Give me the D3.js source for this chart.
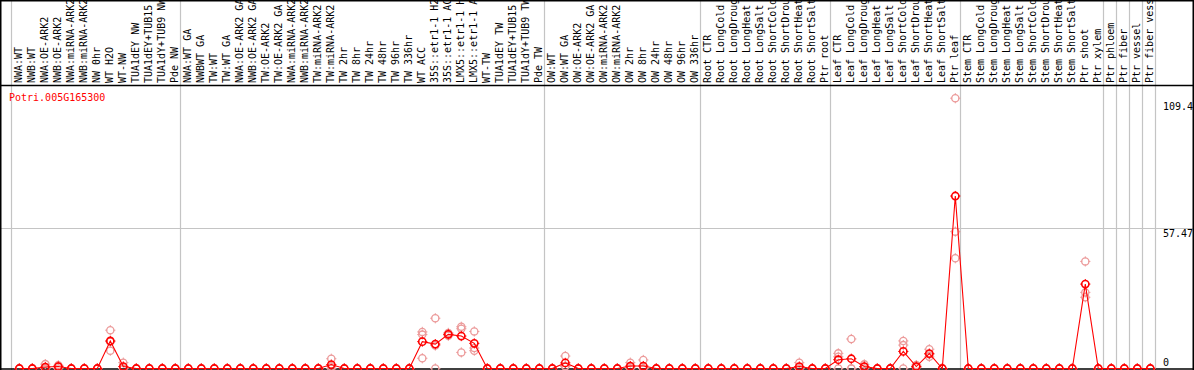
<!DOCTYPE html>
<html><head><meta charset="utf-8">
<script src="https://cdn.jsdelivr.net/npm/d3@7"></script>
<style>body{margin:0;background:#fff}svg{display:block}text{font-family:"DejaVu Sans Mono",monospace;font-size:10px}</style>
</head><body><svg id="c" width="1194" height="370"></svg>
<script>
const geneName = "Potri.005G165300";
const categories = ["NWA:WT","NWB:WT","NWA:OE-ARK2","NWB:OE-ARK2","NWA:miRNA-ARK2","NWB:miRNA-ARK2","NW 0hr","WT H2O","WT-NW","TUA1dEY NW","TUA1dEY+TUB15 NW","TUA1dY+TUB9 NW","Pde NW",
"NWA:WT GA","NWBWT GA","TW:WT","TW:WT GA","NWA:OE-ARK2 GA","NWB:OE-ARK2 GA","TW:OE-ARK2","TW:OE-ARK2 GA","NWA:miRNA-ARK2","NWB:miRNA-ARK2","TW:miRNA-ARK2","TW:miRNA-ARK2","TW 2hr","TW 8hr","TW 24hr","TW 48hr","TW 96hr","TW 336hr","WT ACC","35S::etr1-1 H2O","35S::etr1-1 ACC","LMX5::etr1-1 H2O","LMX5::etr1-1 ACC","WT-TW","TUA1dEY TW","TUA1dEY+TUB15 TW","TUA1dY+TUB9 TW","Pde TW",
"OW:WT","OW:WT GA","OW:OE-ARK2","OW:OE-ARK2 GA","OW:miRNA-ARK2","OW:miRNA-ARK2","OW 2hr","OW 8hr","OW 24hr","OW 48hr","OW 96hr","OW 336hr",
"Root CTR","Root LongCold","Root LongDrought","Root LongHeat","Root LongSalt","Root ShortCold","Root ShortDrought","Root ShortHeat","Root ShortSalt","Ptr root",
"Leaf CTR","Leaf LongCold","Leaf LongDrought","Leaf LongHeat","Leaf LongSalt","Leaf ShortCold","Leaf ShortDrought","Leaf ShortHeat","Leaf ShortSalt","Ptr leaf",
"Stem CTR","Stem LongCold","Stem LongDrought","Stem LongHeat","Stem LongSalt","Stem ShortCold","Stem ShortDrought","Stem ShortHeat","Stem ShortSalt","Ptr shoot","Ptr xylem",
"Ptr phloem","Ptr fiber","Ptr vessel","Ptr fiber vessel"];
const means = [0,0,0.6,0.8,0,0,0,11.3,0.8,0,0,0,0,
0,0,0,0,0,0,0,0,0,0,0,1.6,0,0,0,0,0,0,11.0,10.0,14.0,13.3,10.3,0,0,0,0,0,
0,2.3,0,0,0,0,1.0,1.0,0,0,0,0,
0,0,0,0,0,0,0,0.8,0,0,
3.6,4.0,0.8,0,0,7.0,0.8,6.1,0,70.7,
0,0,0,0,0,0,0,0,0,34.6,0,
0,0,0,0];
const rep1 = [0,0,1.8,1.3,0,0,0,15.7,2.4,0,0,0,0,
0,0,0,0,0,0,0,0,0,0,0,4.0,0,0,0,0,0,0,15.0,20.6,14.6,17.1,15.2,0,0,0,0,0,
0,5.1,0,0,0,0,2.4,3.5,0,0,0,0,
0,0,0,0,0,0,0,2.4,0,0,
6.2,12.1,1.7,0,0,11.3,1.4,7.9,0,110.8,
0,0,0,0,0,0,0,0,0,43.9,0,
0,0,0,0];
const rep2 = [0,0,0,1.0,0,0,0,11.0,0,0,0,0,0,
0,0,0,0,0,0,0,0,0,0,0,0.8,0,0,0,0,0,0,13.9,9.4,14.0,16.3,8.4,0,0,0,0,0,
0,1.0,0,0,0,0,0.6,0,0,0,0,0,
0,0,0,0,0,0,0,0,0,0,
4.8,0,0.6,0,0,9.6,0.6,5.8,0,56.1,
0,0,0,0,0,0,0,0,0,31.2,0,
0,0,0,0];
const rep3 = [0,0,0,0,0,0,0,7.3,0,0,0,0,0,
0,0,0,0,0,0,0,0,0,0,0,0,0,0,0,0,0,0,4.2,0,13.4,6.6,7.3,0,0,0,0,0,
0,0.8,0,0,0,0,0,0,0,0,0,0,
0,0,0,0,0,0,0,0,0,0,
0,0,0,0,0,0,0.4,4.8,0,45.2,
0,0,0,0,0,0,0,0,0,29.2,0,
0,0,0,0];
const groupStarts = [0,13,41,53,63,73,84,85,86,87,88];
const yTicks = [57.47];
const yLabels = ["109.4","57.47","0"];
const yLabelValues = [109.4,57.47,0];

const svg = d3.select("#c");
const W = 1194, H = 370;
const x = d3.scaleLinear().domain([0, categories.length - 1]).range([19.3, 1150.3]);
const y = d3.scaleLinear().domain([0, 114.94]).range([368.5, 88.1]);
const grey = "#c4c4c4";

svg.append("rect").attr("width", W).attr("height", H).attr("fill", "#fff");

// group separators
svg.selectAll("line.grp").data(groupStarts).enter().append("line")
  .attr("x1", d => Math.round(x(d) - 8) + 0.5).attr("x2", d => Math.round(x(d) - 8) + 0.5)
  .attr("y1", 0).attr("y2", H).attr("stroke", grey).attr("stroke-width", 1.2);

// horizontal grid
svg.selectAll("line.hg").data(yTicks).enter().append("line")
  .attr("x1", 0).attr("x2", 1193).attr("y1", d => Math.round(y(d)) + 0.5).attr("y2", d => Math.round(y(d)) + 0.5)
  .attr("stroke", grey).attr("stroke-width", 1.2);

// category labels
svg.selectAll("text.cat").data(categories).enter().append("text")
  .attr("transform", (d, i) => `translate(${x(i) + 3},83) rotate(-90)`)
  .attr("fill", "#000").text(d => d);

// frame
const frame = svg.append("g").attr("stroke", "#000").attr("stroke-width", 1.5);
frame.append("line").attr("x1", 0).attr("x2", W).attr("y1", 0.75).attr("y2", 0.75);
frame.append("line").attr("x1", 0).attr("x2", W).attr("y1", 85.5).attr("y2", 85.5);
frame.append("line").attr("x1", 0).attr("x2", W).attr("y1", 369).attr("y2", 369);
frame.append("line").attr("x1", 0.75).attr("x2", 0.75).attr("y1", 0).attr("y2", H);
frame.append("line").attr("x1", 1193.25).attr("x2", 1193.25).attr("y1", 0).attr("y2", H);

// y labels
svg.selectAll("text.yl").data(yLabels).enter().append("text")
  .attr("x", 1163).attr("y", (d, i) => i === 2 ? y(0) - 2.5 : y(yLabelValues[i]) + 8.3)
  .attr("fill", "#000").text(d => d);

// gene name
svg.append("text").attr("x", 9).attr("y", 101).attr("fill", "#f00").text(geneName);

function marker(g, cx, cy, color, sw) {
  const r = 3.6;
  g.append("circle").attr("cx", cx).attr("cy", cy).attr("r", r)
    .attr("fill", "none").attr("stroke", color).attr("stroke-width", sw);
  g.append("path").attr("d", `M${cx},${cy - r - 1.5}V${cy - r + 0.5}M${cx},${cy + r - 0.5}V${cy + r + 1.5}M${cx - r - 1.5},${cy}H${cx - r + 0.5}M${cx + r - 0.5},${cy}H${cx + r + 1.5}`)
    .attr("stroke", color).attr("stroke-width", 1);
}

// replicates
const repG = svg.append("g");
[rep1, rep2, rep3].forEach(rep => rep.forEach((v, i) => marker(repG, x(i), y(v), "#ec9a9a", 1.3)));

// mean line
svg.append("path").datum(means)
  .attr("d", d3.line().x((d, i) => x(i)).y(d => y(d)))
  .attr("fill", "none").attr("stroke", "#f00").attr("stroke-width", 1.1);

const meanG = svg.append("g");
means.forEach((v, i) => marker(meanG, x(i), y(v), "#f00", 1.6));
</script></body></html>
